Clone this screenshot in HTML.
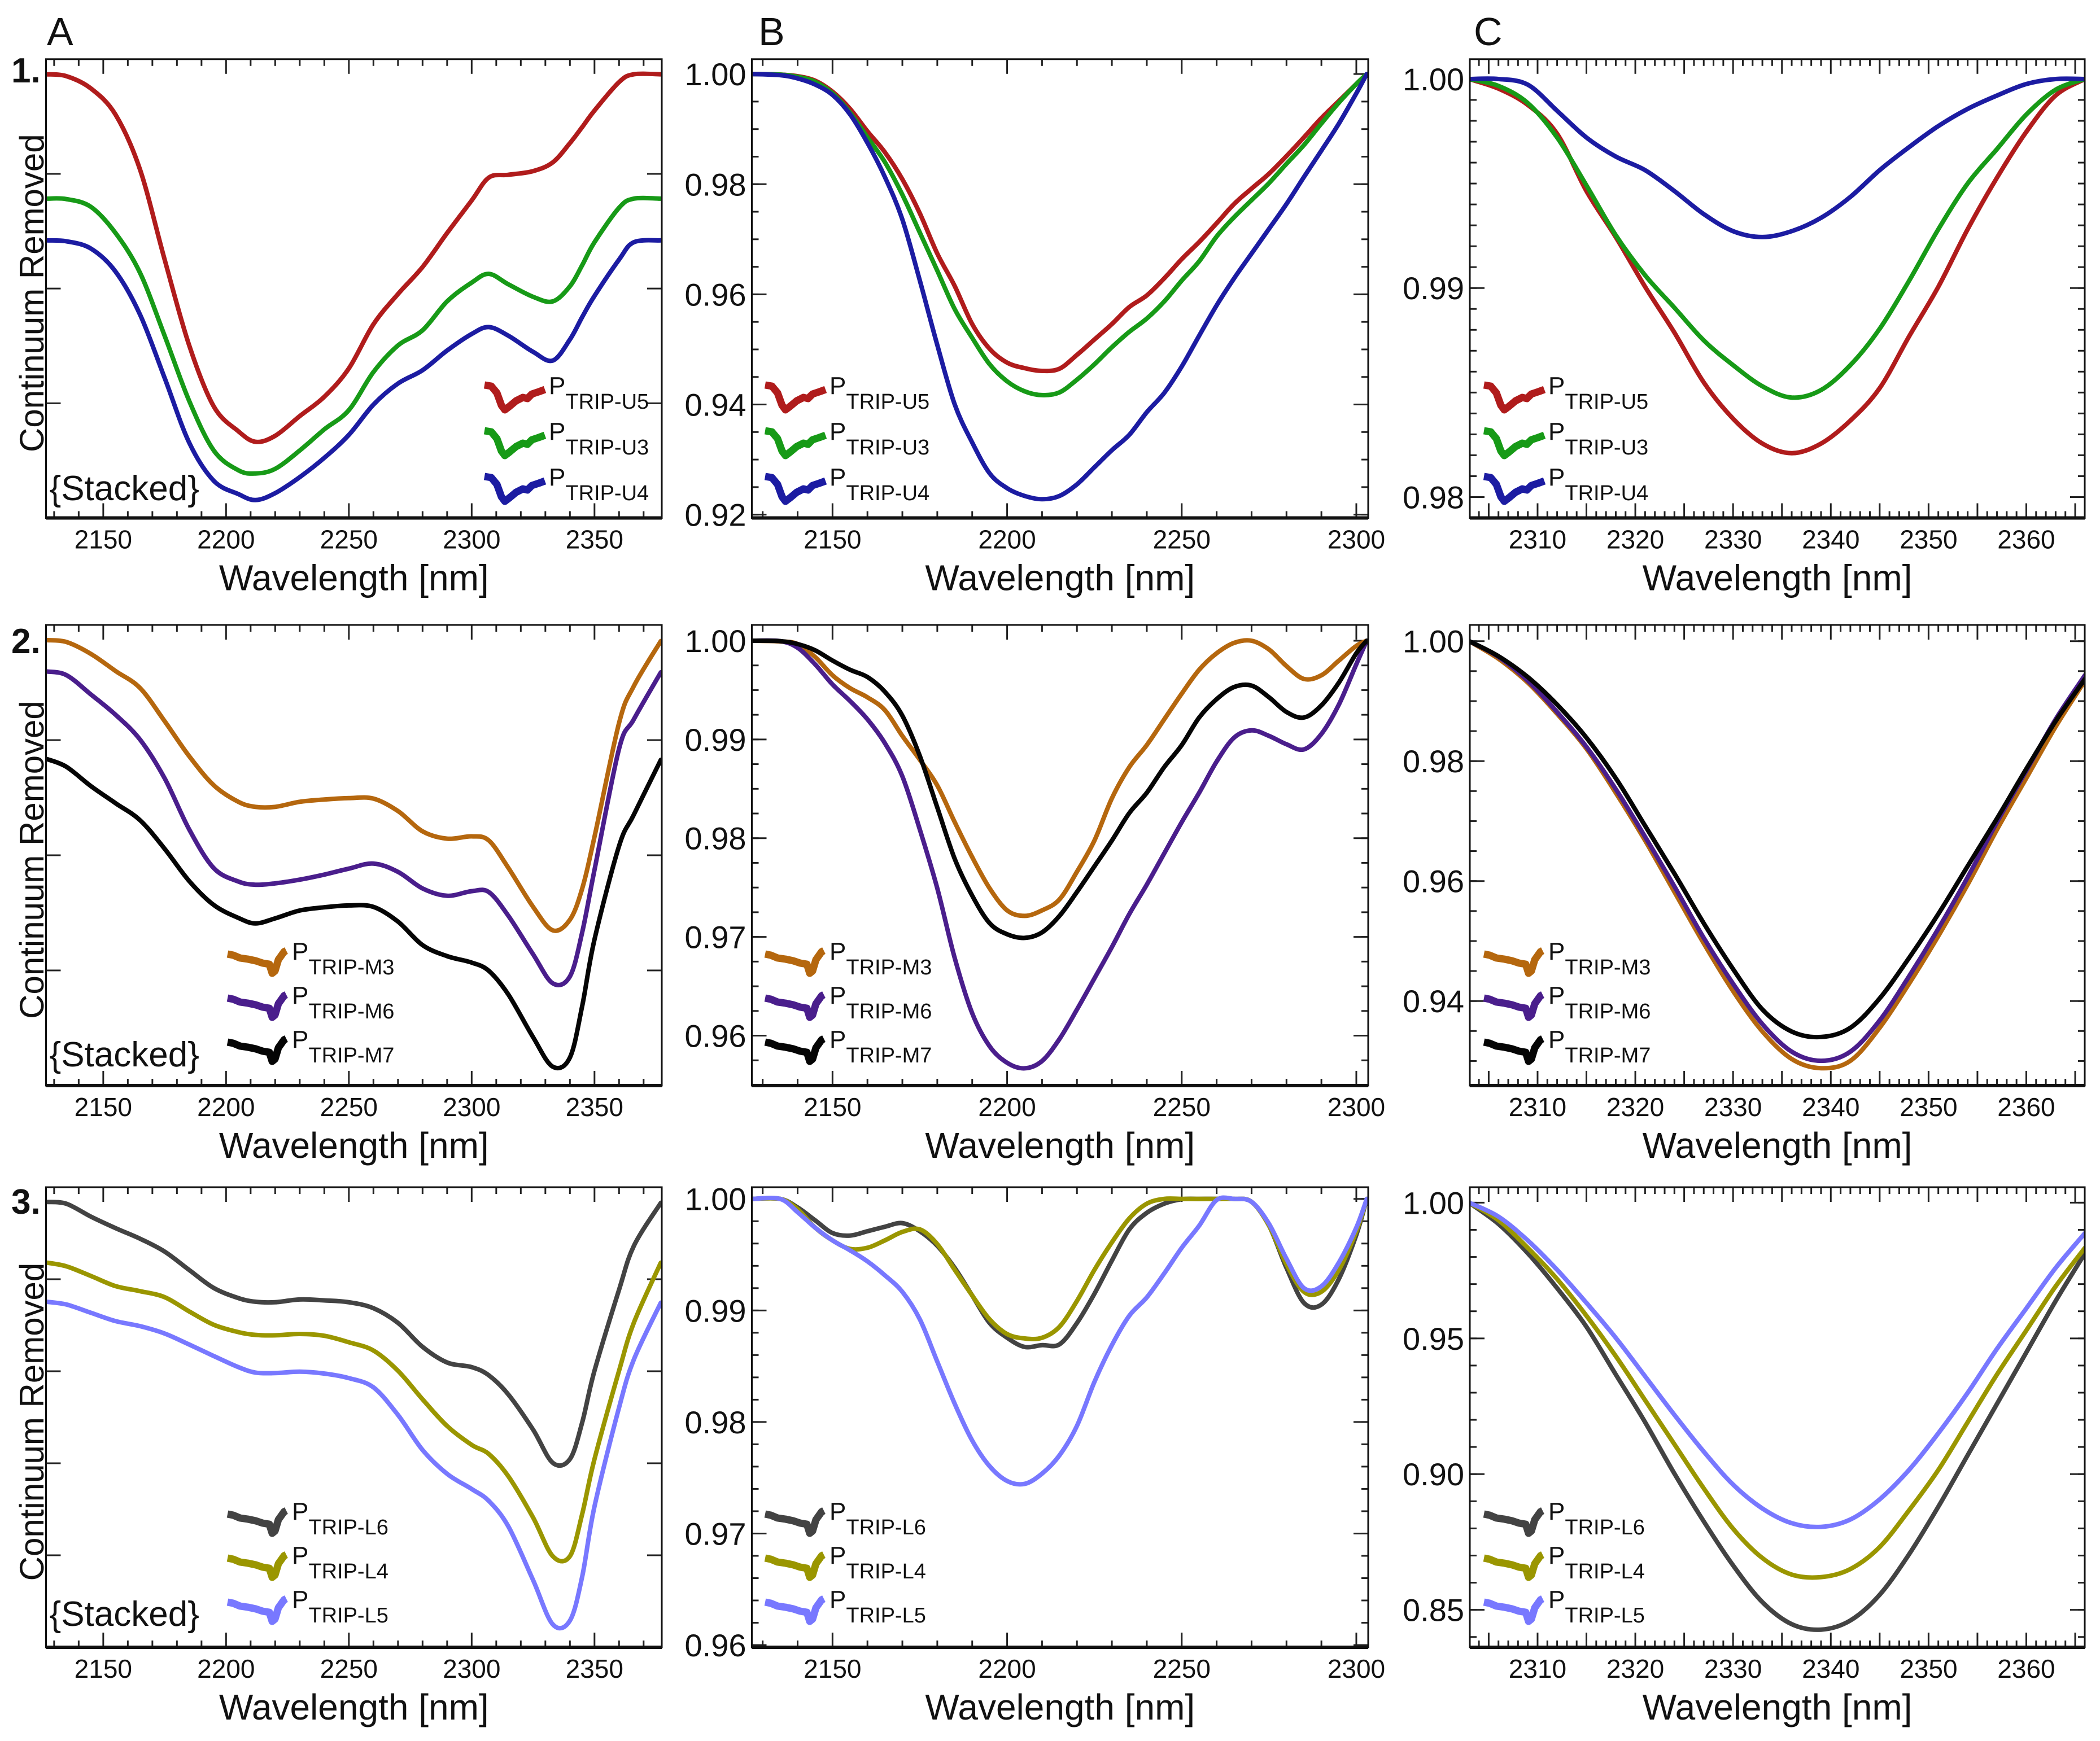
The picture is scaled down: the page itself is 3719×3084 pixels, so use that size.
<!DOCTYPE html>
<html>
<head>
<meta charset="utf-8">
<style>
html,body{margin:0;padding:0;background:#fff;}
svg{display:block;}
text{font-family:"Liberation Sans",sans-serif;fill:#111;}
</style>
</head>
<body>
<svg id="fig" xmlns="http://www.w3.org/2000/svg" width="3719" height="3084" viewBox="0 0 3719 3084">
<rect x="0" y="0" width="3719" height="3084" fill="#fff"/>
</svg>
<script>
// ---------- DATA ----------
const wlA = [2127,2135,2145,2155,2165,2175,2185,2195,2205,2212,2220,2230,2240,2250,2260,2270,2280,2290,2300,2307,2315,2325,2333,2340,2345,2350,2360,2366,2377];
const wlB = [2127,2135,2140,2145,2150,2155,2160,2165,2170,2175,2180,2185,2190,2195,2200,2205,2210,2215,2220,2225,2230,2235,2240,2245,2250,2255,2260,2265,2270,2275,2280,2285,2290,2295,2300,2303];
const wlC = [2303,2306,2309,2312,2315,2318,2321,2324,2327,2330,2333,2336,2339,2342,2345,2348,2351,2354,2357,2360,2363,2366];

const a1U5 = [96.7,96.3,93.6,87.9,75.9,56.3,37.6,24.3,18.9,16.6,17.9,22.2,26.4,32.6,42.2,48.8,54.7,62.1,69.2,74.2,74.8,75.6,77.5,81.7,85.2,88.8,95.0,96.7,96.7];
const a1U3 = [69.6,69.5,67.8,62.1,53.4,39.7,25.5,14.7,10.4,9.7,10.7,14.7,19.3,23.5,31.8,37.6,40.9,47.2,51.3,53.2,50.9,48.2,47.2,50.5,55.1,60.1,67.6,69.6,69.6];
const a1U4 = [60.5,60.3,58.7,53.7,44.3,30.5,16.4,8.1,5.2,3.9,5.4,8.9,13.1,18.1,24.7,29.3,32.2,36.5,40.1,41.6,39.7,36.2,34.3,38.9,43.8,48.4,56.3,60.1,60.5];

const b1U5 = [1.0,0.9999,0.9996,0.9988,0.9968,0.9937,0.9896,0.9858,0.9809,0.9747,0.9674,0.9615,0.9546,0.9501,0.9476,0.9466,0.9461,0.9465,0.9490,0.9518,0.9546,0.9577,0.9598,0.9629,0.9664,0.9695,0.9729,0.9764,0.9792,0.9819,0.9851,0.9885,0.9920,0.9951,0.9982,1.0];
const b1U3 = [1.0,0.9999,0.9995,0.9986,0.9965,0.9930,0.9885,0.9840,0.9781,0.9712,0.9643,0.9573,0.9521,0.9473,0.9442,0.9424,0.9417,0.9422,0.9445,0.9473,0.9504,0.9532,0.9556,0.9587,0.9625,0.9660,0.9705,0.9740,0.9771,0.9802,0.9837,0.9871,0.9910,0.9948,0.9982,1.0];
const b1U4 = [1.0,0.9998,0.9992,0.9981,0.9962,0.9927,0.9875,0.9813,0.9736,0.9625,0.9508,0.9400,0.9331,0.9275,0.9248,0.9234,0.9228,0.9234,0.9255,0.9286,0.9317,0.9345,0.9386,0.9421,0.9469,0.9525,0.9580,0.9629,0.9674,0.9719,0.9764,0.9813,0.9861,0.9910,0.9965,1.0];

const c1U5 = [1.0,0.99954,0.99876,0.99738,0.99464,0.99244,0.99006,0.98787,0.98549,0.98375,0.98256,0.98210,0.98256,0.98366,0.98521,0.98768,0.99006,0.99281,0.99528,0.99747,0.99921,1.0];
const c1U3 = [1.0,0.99967,0.99885,0.99720,0.99491,0.99253,0.99061,0.98906,0.98750,0.98631,0.98530,0.98476,0.98512,0.98631,0.98805,0.99034,0.99281,0.99500,0.99665,0.99830,0.99949,1.0];
const c1U4 = [1.0,1.0,0.99973,0.99848,0.99720,0.99629,0.99564,0.99464,0.99354,0.99272,0.99244,0.99272,0.99336,0.99436,0.99564,0.99674,0.99775,0.99857,0.99921,0.99976,1.0,1.0];

const a2M3 = [96.7,96.3,93.7,90.0,86.3,79.1,71.5,65.2,61.6,60.5,60.5,61.6,62.1,62.4,62.3,59.6,55.2,53.6,54.1,53.2,47.2,38.8,33.7,36.0,42.8,54.0,78.7,86.7,96.5];
const a2M6 = [89.9,89.1,84.9,80.5,75.1,66.7,55.6,47.2,44.3,43.6,43.9,44.7,45.8,47.1,48.2,46.4,42.8,41.2,42.2,42.0,36.8,28.5,22.2,23.7,33.3,46.8,73.1,79.5,89.7];
const a2M7 = [70.9,69.2,65.0,61.3,57.6,51.4,44.4,39.2,36.4,35.2,36.3,38.0,38.7,39.1,38.8,35.6,30.5,28.1,26.7,24.9,19.7,10.5,4.1,6.1,17.3,31.7,52.0,58.8,70.7];

const b2M3 = [1.0,0.99993,0.99967,0.99836,0.99650,0.99520,0.99427,0.99297,0.99036,0.98794,0.98534,0.98162,0.97808,0.97492,0.97269,0.97213,0.97269,0.97380,0.97660,0.97976,0.98404,0.98720,0.98943,0.99204,0.99464,0.99706,0.99873,0.99978,1.0,0.99911,0.99743,0.99613,0.99650,0.99799,0.99948,1.0];
const b2M6 = [1.0,0.99996,0.99929,0.99762,0.99557,0.99390,0.99204,0.98962,0.98627,0.98087,0.97492,0.96785,0.96227,0.95892,0.95725,0.95669,0.95743,0.95966,0.96264,0.96580,0.96897,0.97232,0.97529,0.97846,0.98162,0.98460,0.98776,0.99018,0.99092,0.99036,0.98951,0.98899,0.99055,0.99353,0.99762,1.0];
const b2M7 = [1.0,0.99996,0.99967,0.99903,0.99799,0.99706,0.99632,0.99483,0.99241,0.98832,0.98311,0.97790,0.97418,0.97139,0.97027,0.96990,0.97046,0.97213,0.97455,0.97715,0.97976,0.98255,0.98460,0.98720,0.98943,0.99222,0.99408,0.99531,0.99546,0.99427,0.99278,0.99222,0.99345,0.99576,0.99873,1.0];

const c2M3 = [1.0,0.99706,0.99308,0.98788,0.98206,0.97472,0.96676,0.95819,0.94962,0.94166,0.93492,0.93033,0.92880,0.93003,0.93554,0.94288,0.95084,0.95941,0.96859,0.97716,0.98573,0.99339];
const c2M6 = [1.0,0.99737,0.99339,0.98818,0.98237,0.97533,0.96737,0.95910,0.95053,0.94288,0.93615,0.93156,0.93003,0.93156,0.93676,0.94411,0.95206,0.96063,0.96982,0.97839,0.98696,0.99431];
const c2M7 = [1.0,0.99749,0.99400,0.98941,0.98390,0.97716,0.96921,0.96125,0.95298,0.94533,0.93860,0.93492,0.93400,0.93554,0.94043,0.94717,0.95451,0.96247,0.97043,0.97870,0.98665,0.99369];

const a3L6 = [96.8,96.4,93.6,91.1,88.8,86.0,82.0,78.1,75.9,75.1,75.0,75.6,75.4,75.0,73.7,70.5,65.3,61.9,60.9,59.1,54.9,47.3,40.1,40.9,48.9,60.1,77.7,87.2,96.6];
const a3L4 = [83.6,82.8,80.7,78.5,77.4,76.1,73.0,70.1,68.5,67.9,67.8,68.1,67.7,66.3,64.5,60.1,53.9,48.1,44.0,42.0,37.1,28.2,19.8,19.8,29.0,40.9,60.1,70.5,83.6];
const a3L5 = [75.1,74.5,72.7,70.9,69.8,68.2,65.8,63.3,60.9,59.7,59.6,59.9,59.5,58.5,56.5,50.5,42.9,37.7,34.4,31.8,26.2,14.6,5.0,5.8,15.4,30.6,52.1,62.5,74.9];

const b3L6 = [1.0,1.0,0.99924,0.99809,0.99694,0.99671,0.99710,0.99750,0.99783,0.99710,0.99579,0.99381,0.99134,0.98887,0.98755,0.98673,0.98689,0.98696,0.98887,0.99150,0.99447,0.99727,0.99875,0.99957,0.99997,1.0,1.0,1.0,0.99974,0.99760,0.99381,0.99068,0.99052,0.99282,0.99677,1.0];
const b3L4 = [1.0,1.0,0.99908,0.99743,0.99628,0.99552,0.99562,0.99628,0.99704,0.99727,0.99595,0.99364,0.99134,0.98920,0.98788,0.98749,0.98755,0.98854,0.99085,0.99364,0.99611,0.99825,0.99957,1.0,1.0,1.0,1.0,1.0,0.99974,0.99760,0.99414,0.99167,0.99167,0.99364,0.99710,1.0];
const b3L5 = [1.0,1.0,0.99881,0.99743,0.99628,0.99539,0.99440,0.99315,0.99167,0.98920,0.98541,0.98163,0.97834,0.97603,0.97471,0.97445,0.97537,0.97701,0.97965,0.98360,0.98689,0.98953,0.99117,0.99332,0.99562,0.99760,0.99990,1.0,0.99974,0.99776,0.99463,0.99200,0.99216,0.99430,0.99743,1.0];

const c3L6 = [1.0,0.99216,0.98134,0.96849,0.95429,0.93671,0.91912,0.90019,0.88260,0.86637,0.85284,0.84473,0.84270,0.84608,0.85555,0.87043,0.88801,0.90695,0.92588,0.94482,0.96375,0.98134];
const c3L4 = [1.0,0.99351,0.98336,0.97187,0.95835,0.94347,0.92724,0.91100,0.89477,0.87990,0.86908,0.86299,0.86205,0.86502,0.87314,0.88666,0.90154,0.91912,0.93671,0.95293,0.96916,0.98336];
const c3L5 = [1.0,0.99486,0.98607,0.97525,0.96308,0.95023,0.93603,0.92183,0.90830,0.89613,0.88734,0.88193,0.88057,0.88328,0.89072,0.90154,0.91506,0.92994,0.94617,0.96105,0.97593,0.98877];

const xTicksAB = [2150,2200,2250,2300,2350];
const xTicksC = [2310,2320,2330,2340,2350,2360];
const yTicksB1 = [1.00,0.98,0.96,0.94,0.92];
const yTicksC1 = [1.00,0.99,0.98];
const yTicksB2 = [1.00,0.99,0.98,0.97,0.96];
const yTicksC2 = [1.00,0.98,0.96,0.94];
const yTicksB3 = [1.00,0.99,0.98,0.97,0.96];
const yTicksC3 = [1.00,0.95,0.90,0.85];
const yTicksStack4 = [25,50,75];
const yTicksStack5 = [20,40,60,80];
const namesU = ["U5","U3","U4"];
const namesM = ["M3","M6","M7"];
const namesL = ["L6","L4","L5"];

// ---------- DRAWING ----------
const NS = "http://www.w3.org/2000/svg";
const svg = document.getElementById('fig');
function mk(tag, attrs, parent){
  const e = document.createElementNS(NS, tag);
  for (const k in attrs) e.setAttribute(k, attrs[k]);
  (parent||svg).appendChild(e);
  return e;
}
function smooth(pts){
  let d = "M" + pts[0][0].toFixed(1) + "," + pts[0][1].toFixed(1);
  for (let i=0;i<pts.length-1;i++){
    const p0 = pts[i-1]||pts[i], p1=pts[i], p2=pts[i+1], p3=pts[i+2]||pts[i+1];
    const c1x = p1[0]+(p2[0]-p0[0])/6, c1y = p1[1]+(p2[1]-p0[1])/6;
    const c2x = p2[0]-(p3[0]-p1[0])/6, c2y = p2[1]-(p3[1]-p1[1])/6;
    d += " C"+c1x.toFixed(1)+","+c1y.toFixed(1)+" "+c2x.toFixed(1)+","+c2y.toFixed(1)+" "+p2[0].toFixed(1)+","+p2[1].toFixed(1);
  }
  return d;
}
const COLORS = {U5:"#b01c1c",U3:"#179a17",U4:"#1c1ca2",M3:"#b5670e",M6:"#4a1e8c",M7:"#050505",L6:"#434343",L4:"#9a9600",L5:"#7878ff"};

function panel(cfg){
  const g = mk('g',{});
  
  
  const X = v => cfg.L + (v-cfg.xmin)/(cfg.xmax-cfg.xmin)*(cfg.R-cfg.L);
  const Y = v => cfg.B - (v-cfg.ymin)/(cfg.ymax-cfg.ymin)*(cfg.B-cfg.T);
  // clip
  const cid = 'clip-'+cfg.name;
  const cp = mk('clipPath',{id:cid}, g);
  mk('rect',{x:cfg.L,y:cfg.T,width:cfg.R-cfg.L,height:cfg.B-cfg.T}, cp);
  // minor x ticks
  const tg = mk('g',{stroke:"#222","stroke-width":3}, g);
  
  
  const xs = Math.ceil(cfg.xmin/cfg.xminor)*cfg.xminor;
  for (let v=xs; v<=cfg.xmax+1e-9; v+=cfg.xminor){
    const major = Math.abs(v/cfg.xmajor - Math.round(v/cfg.xmajor))<1e-6;
    const len = major?26:12;
    const x = X(v);
    mk('line',{x1:x,y1:cfg.B,x2:x,y2:cfg.B-len}, tg);
    mk('line',{x1:x,y1:cfg.T,x2:x,y2:cfg.T+len}, tg);
  }
  for (const v of cfg.yticks){
    const y = Y(v);
    mk('line',{x1:cfg.L,y1:y,x2:cfg.L+26,y2:y}, tg);
    mk('line',{x1:cfg.R,y1:y,x2:cfg.R-26,y2:y}, tg);
  }
  if (cfg.yminor){
    const ys = Math.ceil(cfg.ymin/cfg.yminor)*cfg.yminor;
    for (let v=ys; v<=cfg.ymax+1e-9; v+=cfg.yminor){
      const y = Y(v);
      mk('line',{x1:cfg.L,y1:y,x2:cfg.L+12,y2:y}, tg);
      mk('line',{x1:cfg.R,y1:y,x2:cfg.R-12,y2:y}, tg);
    }
  }
  // series
  cfg.series.forEach((vals, i) => {
    const pts = vals.map((v,k)=>[X(cfg.wl[k]), Y(v)]);
    const p = mk('path',{d:smooth(pts),fill:"none",stroke:COLORS[cfg.names[i]],"stroke-width":8,"stroke-linejoin":"round","stroke-linecap":"round","clip-path":"url(#"+cid+")"}, g);
    
    
  });
  // frame
  const fr = mk('rect',{x:cfg.L,y:cfg.T,width:cfg.R-cfg.L,height:cfg.B-cfg.T,fill:"none",stroke:"#111","stroke-width":3}, g);
  
  
  mk('line',{x1:cfg.L,y1:cfg.B,x2:cfg.R,y2:cfg.B,stroke:"#111","stroke-width":6}, g);
  // x tick labels
  for (const v of cfg.xlabels){
    if (v < cfg.xmin-0.01 || v > cfg.xmax+3) continue;
    const t = mk('text',{x:X(v),y:cfg.B+54,"font-size":46,"text-anchor":"middle"}, g);
    t.textContent = String(v);
    
    
  }
  // y tick labels
  if (cfg.ylabels){
    for (const v of cfg.yticks){
      const t = mk('text',{x:cfg.L-10,y:Y(v)+20,"font-size":56,"text-anchor":"end"}, g);
      t.textContent = v.toFixed(2);
      
      
    }
  }
  // x title
  const xt = mk('text',{x:(cfg.L+cfg.R)/2,y:cfg.B+128,"font-size":64,"text-anchor":"middle"}, g);
  xt.textContent = "Wavelength [nm]";
  
  
  // legend
  const lg = mk('g',{}, g);
  
  
  cfg.names.forEach((nm, i) => {
    const cy = cfg.legY + i*cfg.legDY;
    const x0 = cfg.legX;
    const shape = cfg.shapeU
      ? [[0,0],[12,2],[22,14],[30,36],[36,44],[44,38],[56,28],[68,22],[76,24],[84,16],[96,12],[107,8]]
      : [[0,6],[10,8],[22,13],[36,15],[50,18],[62,22],[74,24],[79,40],[84,36],[90,16],[100,2],[104,0]];
    const pts = shape.map(p=>[x0+p[0], cy-24+p[1]]);
    const e = mk('g',{}, lg);
    
    
    mk('path',{d:"M"+pts.map(p=>p.join(",")).join(" L"),fill:"none",stroke:COLORS[nm],"stroke-width":13,"stroke-linejoin":"round"}, e);
    const t = mk('text',{x:x0+114,y:cy-8,"font-size":44}, e);
    t.textContent = "P";
    const s = mk('tspan',{dy:26,"font-size":38}, t);
    s.textContent = "TRIP-"+nm;
  });
  if (cfg.stacked){
    const st = mk('text',{x:cfg.L+6,y:cfg.stackY,"font-size":62}, g);
    st.textContent = "{Stacked}";
    
    
    const yt = mk('text',{x:0,y:0,"font-size":60,"text-anchor":"middle",transform:"translate(77,"+((cfg.T+cfg.B)/2+8)+") rotate(-90)"}, g);
    yt.textContent = "Continuum Removed";
    
    
  }
}

const rows = [{T:104.8,B:917.5,legY:706,legDY:81,stackY:886},{T:1107,B:1923,legY:1708,legDY:78,stackY:1889},{T:2103,B:2918,legY:2700,legDY:78,stackY:2880}];
const colA = {L:81.5,R:1172,xmin:2126.7,xmax:2377.4,xminor:10,xmajor:50,wl:wlA};
const colB = {L:1331.5,R:2423,xmin:2126.9,xmax:2303.4,xminor:10,xmajor:50,wl:wlB};
const colC = {L:2603,R:3692,xmin:2303.07,xmax:2365.98,xminor:1,xmajor:5,wl:wlC};

panel(Object.assign({},colA,rows[0],{name:"panel-A1",ymin:0,ymax:100,yticks:yTicksStack4,ylabels:false,xlabels:xTicksAB,series:[a1U5,a1U3,a1U4],names:namesU,shapeU:true,legX:858,stacked:true}));
panel(Object.assign({},colB,rows[0],{name:"panel-B1",ymin:0.9194,ymax:1.0027,yticks:yTicksB1,yminor:0.005,ylabels:true,xlabels:xTicksAB,series:[b1U5,b1U3,b1U4],names:namesU,shapeU:true,legX:1355}));
panel(Object.assign({},colC,rows[0],{name:"panel-C1",ymin:0.9790,ymax:1.00095,yticks:yTicksC1,yminor:0.001,ylabels:true,xlabels:xTicksC,series:[c1U5,c1U3,c1U4],names:namesU,shapeU:true,legX:2628}));

panel(Object.assign({},colA,rows[1],{name:"panel-A2",ymin:0,ymax:100,yticks:yTicksStack4,ylabels:false,xlabels:xTicksAB,series:[a2M3,a2M6,a2M7],names:namesM,shapeU:false,legX:403,stacked:true}));
panel(Object.assign({},colB,rows[1],{name:"panel-B2",ymin:0.95494,ymax:1.0016,yticks:yTicksB2,yminor:0.0025,ylabels:true,xlabels:xTicksAB,series:[b2M3,b2M6,b2M7],names:namesM,shapeU:false,legX:1355}));
panel(Object.assign({},colC,rows[1],{name:"panel-C2",ymin:0.9259,ymax:1.0027,yticks:yTicksC2,yminor:0.005,ylabels:true,xlabels:xTicksC,series:[c2M3,c2M6,c2M7],names:namesM,shapeU:false,legX:2628}));

panel(Object.assign({},colA,rows[2],{name:"panel-A3",ymin:0,ymax:100,yticks:yTicksStack5,ylabels:false,xlabels:xTicksAB,series:[a3L6,a3L4,a3L5],names:namesL,shapeU:false,legX:403,stacked:true}));
panel(Object.assign({},colB,rows[2],{name:"panel-B3",ymin:0.9598,ymax:1.00105,yticks:yTicksB3,yminor:0.002,ylabels:true,xlabels:xTicksAB,series:[b3L6,b3L4,b3L5],names:namesL,shapeU:false,legX:1355}));
panel(Object.assign({},colC,rows[2],{name:"panel-C3",ymin:0.8362,ymax:1.0057,yticks:yTicksC3,yminor:0.01,ylabels:true,xlabels:xTicksC,series:[c3L6,c3L4,c3L5],names:namesL,shapeU:false,legX:2628}));

// panel letters and row numbers
[["A",83],["B",1343],["C",2610]].forEach(([s,x])=>{
  const t = mk('text',{x:x,y:80,"font-size":70});
  t.textContent = s;
  
  
});
[["1.",146],["2.",1157],["3.",2150]].forEach(([s,y])=>{
  const t = mk('text',{x:20,y:y,"font-size":62,"font-weight":"bold"});
  t.textContent = s;
  
  
});
</script>
</body>
</html>
